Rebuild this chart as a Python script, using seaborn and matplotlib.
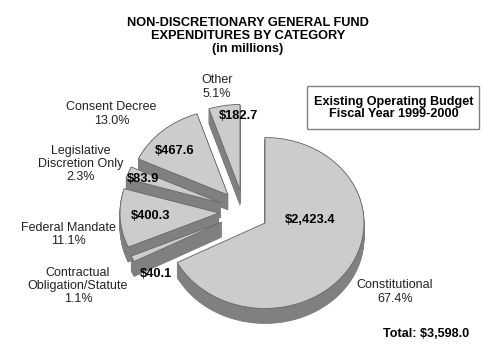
import matplotlib
matplotlib.use("Agg")
import matplotlib.pyplot as plt
import seaborn as sns
from matplotlib.patches import Rectangle

sns.set_theme(style="white")
plt.rcParams['font.family'] = ['Liberation Sans', 'DejaVu Sans']

categories = ["Constitutional", "Contractual Obligation/Statute", "Federal Mandate",
              "Legislative Discretion Only", "Consent Decree", "Other"]
amounts = [2423.4, 40.1, 400.3, 83.9, 467.6, 182.7]
percents = [67.4, 1.1, 11.1, 2.3, 13.0, 5.1]
amount_labels = ["$2,423.4", "$40.1", "$400.3", "$83.9", "$467.6", "$182.7"]
name_labels = ["Constitutional\n67.4%", "Contractual\nObligation/Statute\n1.1%", "Federal Mandate\n11.1%",
               "Legislative\nDiscretion Only\n2.3%", "Consent Decree\n13.0%", "Other\n5.1%"]
title_lines = "NON-DISCRETIONARY GENERAL FUND\nEXPENDITURES BY CATEGORY\n(in millions)"
box_lines = "Existing Operating Budget\nFiscal Year 1999-2000"
total_label = "Total: $3,598.0"

# layout in pixels
W, H = 500, 360
RX, RY = 99, 85.5
DEPTH = 15
SQ = RY / RX
apex_px = [(265, 223), (222, 222), (219, 213), (221, 203), (228, 195), (240, 190)]
amount_px = [(310, 220), (156, 274), (151, 216), (143, 179), (175, 151), (238, 116)]
name_px = [(395, 292), (78, 286), (68, 234.5), (81, 164), (111.5, 114), (217, 87)]

TOP = "#cccccc"
WALL = "#808080"
EDGE = "#666666"

fig = plt.figure(figsize=(5, 3.6), dpi=100, facecolor="white")
ax = fig.add_axes([0, 0, 1, 1])

def Y(py):
    return (H - py) / SQ

n = len(amounts)
steps = [DEPTH - k * 0.5 for k in range(DEPTH * 2 + 1)]
for d in steps:
    wedges, _ = ax.pie(amounts, startangle=90, counterclock=False, radius=RX,
                       colors=[TOP if d == 0 else WALL] * n,
                       wedgeprops=dict(linewidth=0.6 if d == 0 else 0.5,
                                       edgecolor=EDGE if d == 0 else WALL))
    for i, w in enumerate(wedges):
        px, py = apex_px[i]
        w.set_center((px, Y(py + d)))
        # back-to-front: Other first, Constitutional last
        w.set_zorder((n - i) * 10 + (1 if d == 0 else 0))

ax.set_aspect("auto")
ax.set_xlim(0, W)
ax.set_ylim(0, H / SQ)
ax.axis("off")

for (px, py), s in zip(amount_px, amount_labels):
    ax.text(px, Y(py), s, ha="center", va="center", fontsize=9.3, fontweight="bold",
            color="black", zorder=200)
for (px, py), s in zip(name_px, name_labels):
    ax.text(px, Y(py), s, ha="center", va="center", fontsize=9, color="#222222",
            linespacing=1.15, zorder=200)

ax.text(248, Y(36), title_lines, ha="center", va="center", fontsize=9.15, fontweight="bold",
        color="black", linespacing=1.12, zorder=200)
ax.add_patch(Rectangle((307, Y(129)), 172, Y(86) - Y(129), facecolor="white",
                       edgecolor="#808080", linewidth=1, zorder=150))
ax.text(394, Y(108), box_lines, ha="center", va="center", fontsize=9.1, fontweight="bold",
        color="black", linespacing=1.05, zorder=200)
ax.text(426, Y(334), total_label, ha="center", va="center", fontsize=9.1, fontweight="bold",
        color="black", zorder=200)

fig.savefig("out.png", dpi=100, facecolor="white")
